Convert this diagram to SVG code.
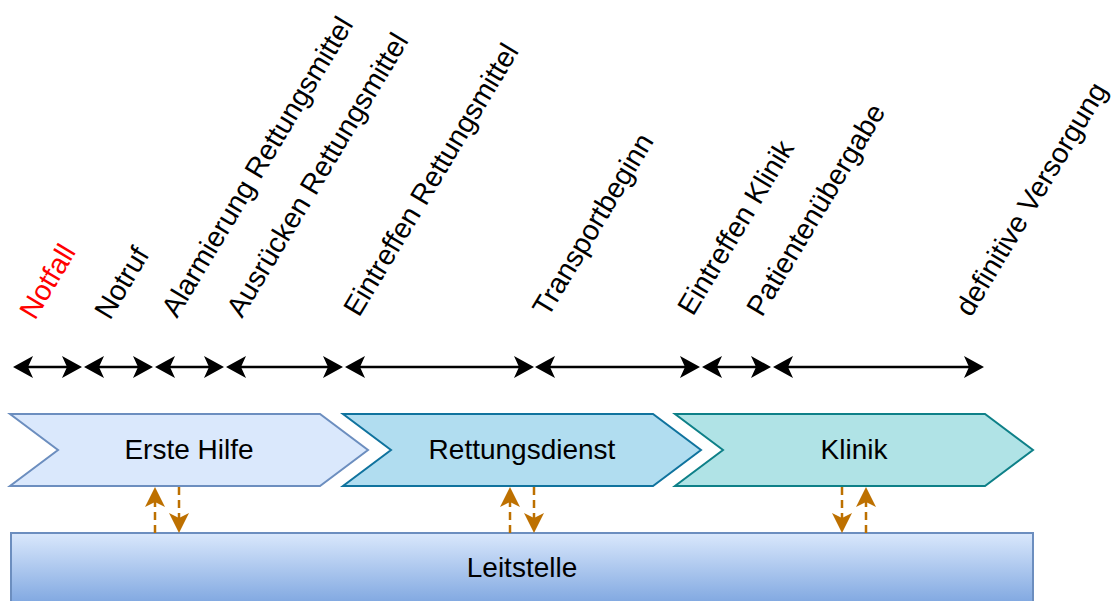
<svg xmlns="http://www.w3.org/2000/svg" width="1115" height="601" viewBox="0 0 1115 601">
  <style>
    text { font-family: "Liberation Sans", Arial, Helvetica, sans-serif; font-size: 28px; fill: #000; }
    .lbl { text-anchor: start; font-size: 28.5px; }
    .mid { text-anchor: middle; }
    .red { fill: #ff0000; }
    .tl { stroke: #000; stroke-width: 2.4; fill: none; marker-start: url(#blk); marker-end: url(#blk); }
    .flow { stroke: #BD7000; stroke-width: 2.5; fill: none; stroke-dasharray: 8 5; marker-end: url(#org); }
    .step { stroke-width: 2; }
  </style>
  <defs>
    <marker id="blk" markerUnits="userSpaceOnUse" viewBox="-6 -12 22 24" markerWidth="22" markerHeight="24" refX="0" refY="0" orient="auto-start-reverse">
      <path d="M15,0 L-5,-11 L0,0 L-5,11 Z" fill="#000"/>
    </marker>
    <marker id="org" markerUnits="userSpaceOnUse" viewBox="-6 -11 22 22" markerWidth="22" markerHeight="22" refX="0" refY="0" orient="auto">
      <path d="M15,0 L-5,-10 L0,0 L-5,10 Z" fill="#BD7000"/>
    </marker>
    <linearGradient id="lsGrad" x1="0" y1="0" x2="0" y2="1">
      <stop offset="0" stop-color="#dae8fc"/>
      <stop offset="1" stop-color="#7ea6e0"/>
    </linearGradient>
  </defs>

  <!-- milestone labels -->
  <g id="labels">
    <text class="lbl red" transform="translate(35,321) rotate(-59)">Notfall</text>
    <text class="lbl" transform="translate(110,321) rotate(-59)">Notruf</text>
    <text class="lbl" transform="translate(177,319) rotate(-59)">Alarmierung Rettungsmittel</text>
    <text class="lbl" transform="translate(242,319) rotate(-59)">Ausrücken Rettungsmittel</text>
    <text class="lbl" transform="translate(359,318) rotate(-59)">Eintreffen Rettungsmittel</text>
    <text class="lbl" transform="translate(548,318) rotate(-59)">Transportbeginn</text>
    <text class="lbl" transform="translate(693,317) rotate(-59)">Eintreffen Klinik</text>
    <text class="lbl" transform="translate(762,318) rotate(-59)">Patientenübergabe</text>
    <text class="lbl" transform="translate(971,318) rotate(-59)">definitive Versorgung</text>
  </g>

  <!-- phases -->
  <g id="erste-hilfe">
    <polygon class="step" points="10,414 320,414 368,450 320,486 10,486 58,450" fill="#dae8fc" stroke="#6c8ebf"/>
    <text class="mid" x="189" y="459">Erste Hilfe</text>
  </g>
  <g id="rettungsdienst">
    <polygon class="step" points="343,414 653,414 701,450 653,486 343,486 391,450" fill="#b1ddf0" stroke="#10739e"/>
    <text class="mid" x="522" y="459">Rettungsdienst</text>
  </g>
  <g id="klinik">
    <polygon class="step" points="675,414 985,414 1033,450 985,486 675,486 723,450" fill="#b0e3e6" stroke="#0e8088"/>
    <text class="mid" x="854" y="459">Klinik</text>
  </g>
  <g id="leitstelle">
    <rect x="11" y="533" width="1022" height="72" fill="url(#lsGrad)" stroke="#6c8ebf" stroke-width="2"/>
    <text class="mid" x="522" y="577">Leitstelle</text>
  </g>

  <!-- connectors: timeline intervals and message flows -->
  <g id="connectors">
    <line class="tl" x1="28" y1="367" x2="67" y2="367"/>
    <line class="tl" x1="99" y1="367" x2="138" y2="367"/>
    <line class="tl" x1="170" y1="367" x2="209" y2="367"/>
    <line class="tl" x1="241" y1="367" x2="328" y2="367"/>
    <line class="tl" x1="360" y1="367" x2="519" y2="367"/>
    <line class="tl" x1="550" y1="367" x2="685" y2="367"/>
    <line class="tl" x1="717" y1="367" x2="756" y2="367"/>
    <line class="tl" x1="788" y1="367" x2="969" y2="367"/>

    <line class="flow" x1="155" y1="533" x2="155" y2="502"/>
    <line class="flow" x1="179" y1="487" x2="179" y2="518"/>
    <line class="flow" x1="510" y1="533" x2="510" y2="502"/>
    <line class="flow" x1="534" y1="487" x2="534" y2="518"/>
    <line class="flow" x1="842" y1="487" x2="842" y2="518"/>
    <line class="flow" x1="866" y1="533" x2="866" y2="502"/>
  </g>
</svg>
